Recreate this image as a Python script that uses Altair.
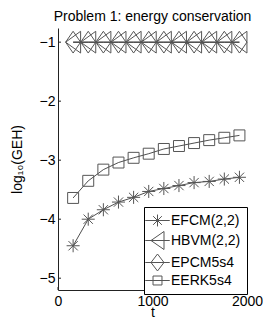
import altair as alt
import pandas as pd

methods = ["EFCM(2,2)", "HBVM(2,2)", "EPCM5s4", "EERK5s4"]
t_values = [160, 320, 480, 640, 800, 960, 1120, 1280, 1440, 1600, 1760, 1920]
efcm = [-4.45, -4.00, -3.84, -3.71, -3.63, -3.53, -3.48, -3.43, -3.38, -3.36, -3.32, -3.29]
hbvm = [-1.0, -1.0, -1.0, -1.0, -1.0, -1.0, -1.0, -1.0, -1.0, -1.0, -1.0, -1.0]
epcm = [-1.0, -1.0, -1.0, -1.0, -1.0, -1.0, -1.0, -1.0, -1.0, -1.0, -1.0, -1.0]
eerk = [-3.64, -3.35, -3.16, -3.04, -2.96, -2.89, -2.81, -2.76, -2.71, -2.66, -2.62, -2.58]
x_ticks = [0, 1000, 2000]
y_ticks = [-1, -2, -3, -4, -5]

series = {"EFCM(2,2)": efcm, "HBVM(2,2)": hbvm, "EPCM5s4": epcm, "EERK5s4": eerk}
rows = []
for m in methods:
    for t, v in zip(t_values, series[m]):
        rows.append({"method": m, "t": t, "v": v})
df = pd.DataFrame(rows)

FONT = "Liberation Sans"
MARK = "#555555"
LINE = "#222222"

# marker shapes (plot)
plot_paths = [
    "M-0.87,0L0.87,0M0,-0.87L0,0.87M-0.62,-0.62L0.62,0.62M-0.62,0.62L0.62,-0.62",
    "M-1,0L1,-1.45L1,1.45Z",
    "M0,-1.45L1,0L0,1.45L-1,0Z",
    "M-0.73,-0.73L0.73,-0.73L0.73,0.73L-0.73,0.73Z",
]
# legend shapes (marker + line segment)
ln = "M-1.75,0L1.75,0"
legend_paths = [
    ln + "M0,-0.85L0,0.85M-0.62,-0.62L0.62,0.62M-0.62,0.62L0.62,-0.62",
    ln + "M-0.93,0L0.93,-1.29L0.93,1.29Z",
    ln + "M0,-1.21L0.93,0L0,1.21L-0.93,0Z",
    ln + "M-0.64,-0.64L0.64,-0.64L0.64,0.64L-0.64,0.64Z",
]

xscale = alt.Scale(domain=[0, 2000], nice=False, zero=False)
yscale = alt.Scale(domain=[-5.2, -0.76], nice=False, zero=False)

x_enc = alt.X(
    "t:Q", scale=xscale,
    axis=alt.Axis(values=x_ticks, format="d", title="t", grid=False, ticks=False, tickSize=0,
                  labelPadding=4, labelFontSize=14, labelFont=FONT, labelColor="black",
                  titleFont=FONT, titleFontSize=14, titleFontWeight="normal", titleColor="black",
                  titleY=26, titleBaseline="alphabetic", domainColor="#222222", labelFlush=False),
)
y_enc = alt.Y(
    "v:Q", scale=yscale,
    axis=alt.Axis(values=y_ticks, format="d", title="log₁₀(GEH)", grid=False, ticks=False, tickSize=0,
                  labelPadding=3, labelFontSize=14, labelFont=FONT, labelColor="black",
                  titleFont=FONT, titleFontSize=14, titleFontWeight="normal", titleColor="black",
                  titleX=-41, titleY=131, titleAngle=270, titleAlign="center", titleBaseline="middle",
                  domainColor="#222222", labelFlush=False),
)

base = alt.Chart(df)

lines = base.mark_line(color=LINE, strokeWidth=0.8).encode(
    x=x_enc, y=y_enc, detail="method:N"
)

points = base.mark_point(filled=False, size=225, strokeWidth=1, color=MARK, opacity=1).encode(
    x="t:Q", y="v:Q",
    shape=alt.Shape("method:N", scale=alt.Scale(domain=methods, range=plot_paths), legend=None),
)

legend_layer = base.mark_point(filled=False, strokeWidth=1, color=MARK, opacity=1).encode(
    x="t:Q", y="v:Q",
    shape=alt.Shape(
        "method:N",
        scale=alt.Scale(domain=methods, range=legend_paths),
        legend=alt.Legend(
            title=None, orient="none", legendX=86, legendY=179,
            padding=6, strokeColor="black", fillColor="white",
            symbolSize=196, symbolStrokeWidth=1, symbolStrokeColor=MARK,
            labelFont=FONT, labelFontSize=14, labelColor="black", labelOffset=6,
            rowPadding=0,
        ),
    ),
).transform_filter("false")

ytick_df = pd.DataFrame({"v": y_ticks})
xtick_df = pd.DataFrame({"t": x_ticks})

yticks = alt.Chart(ytick_df).mark_rule(color="#222222", strokeWidth=1).encode(
    y=alt.Y("v:Q"), x=alt.value(0), x2=alt.value(3)
)
xticks = alt.Chart(xtick_df).mark_rule(color="#222222", strokeWidth=1).encode(
    x=alt.X("t:Q"), y=alt.value(262), y2=alt.value(259)
)

chart = (
    alt.layer(lines, points, legend_layer, yticks, xticks)
    .resolve_scale(shape="independent")
    .properties(
        width=189, height=262,
        autosize=alt.AutoSizeParams(type="none"),
        padding={"left": 50, "top": 20, "right": 16, "bottom": 29},
        title=alt.TitleParams(
            "Problem 1: energy conservation", font=FONT, fontSize=14, fontWeight="normal",
            color="black", anchor="middle", offset=4, frame="group",
        ),
        background="white",
    )
    .configure_view(strokeWidth=0)
)

chart.save("out.html", embed_options={"renderer": "svg", "actions": False})
